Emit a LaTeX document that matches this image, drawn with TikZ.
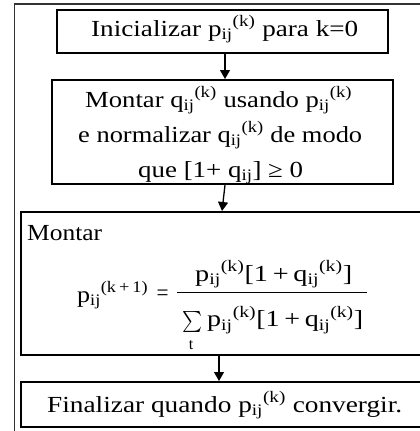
\documentclass[tikz,border=0pt]{standalone}
\usepackage{amsmath}
\usepackage{graphicx}
\usepackage{fontspec}
\setmainfont{Liberation Serif}
\usetikzlibrary{arrows.meta}
\newcommand{\Pk}[1]{#1\textsubscript{ij}\textsuperscript{(k)}}
\newcommand{\fitw}[2]{\resizebox{#1pt}{\height}{#2}}
\begin{document}
\begin{tikzpicture}[x=1pt,y=-1pt,
  box/.style={draw, line width=2pt, rectangle, inner sep=0pt},
  arr/.style={line width=1.3pt, -{Triangle[width=10pt,length=9pt]}},
  txt/.style={font=\fontsize{23}{27}\selectfont, inner sep=0pt, anchor=base west},
  small/.style={font=\fontsize{16}{19}\selectfont, inner sep=0pt}]
\useasboundingbox (0,0) rectangle (420,431);
\begin{scope}
\clip (0,0) rectangle (420,431);
\draw[line width=1.2pt, black!80] (425,4) -- (14.5,4) -- (14.5,435);
% box 1
\node[box, minimum width=331pt, minimum height=43pt] (b1) at (222.5,31.5) {};
\node[txt] (t1) at (91,36) {\fitw{267}{Inicializar \Pk{p} para k=0}};
% box 2
\node[box, minimum width=341pt, minimum height=104pt] (b2) at (222.5,132) {};
\node[txt] (t2a) at (85,107) {\fitw{267}{Montar \Pk{q} usando \Pk{p}}};
\node[txt] (t2b) at (78,142) {\fitw{284}{e normalizar \Pk{q} de modo}};
\node[txt] (t2c) at (138,177) {\fitw{165}{que [1+ q\textsubscript{ij}] ≥ 0}};
% box 3
\node[box, minimum width=409pt, minimum height=143pt] (b3) at (225.5,283.5) {};
\node[txt] (t3) at (27,240) {\fitw{75}{Montar}};
\node[txt] (lhs) at (77,302) {\fitw{71}{p\textsubscript{ij}\textsuperscript{(k\,+\,1)}}};
\node[txt, anchor=center] (eq) at (162.5,295) {\fitw{12}{=}};
\node[txt] (num) at (195,281) {\fitw{157}{\Pk{p}[1\,+\,\Pk{q}]}};
\node[txt] (den) at (207,326.5) {\fitw{156}{\Pk{p}[1\,+\,\Pk{q}]}};
\node[inner sep=0pt] (sum) at (192,321.5) {\resizebox*{20pt}{21pt}{$\sum$}};
\node[small, anchor=base] (t) at (191,349.5) {t};
\draw[line width=1pt] (num.west |- 0,292) ++(-18,0) coordinate (barL) -- (367,292) coordinate (barR);
% box 4
\node[box, minimum width=409pt, minimum height=45pt] (b4) at (225.5,404.5) {};
\node[txt] (t4) at (47,412) {\fitw{355}{Finalizar quando \Pk{p} convergir.}};
% arrows
\draw[arr] ([xshift=2.5pt]b1.south) -- ([xshift=2.5pt]b2.north);
\draw[arr] ([xshift=2.5pt]b2.south) -- ([xshift=-0.5pt]b3.north -| b2.south);
\draw[arr] ([xshift=-6.5pt]b3.south) -- ([xshift=-6.5pt]b4.north);
\end{scope}
\end{tikzpicture}
\end{document}
